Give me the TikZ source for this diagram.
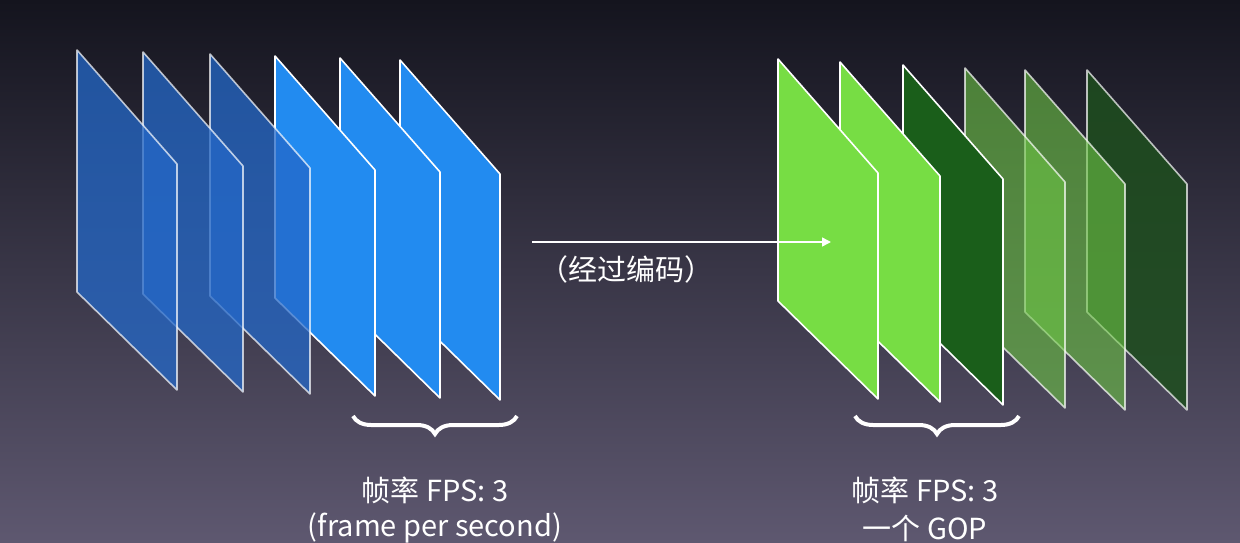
\documentclass[tikz,border=0pt]{standalone}
\usepackage{fontspec}
\setmainfont{Noto Sans CJK SC}
\usetikzlibrary{decorations.pathreplacing,arrows.meta}
\definecolor{bgtop}{HTML}{14141E}
\definecolor{bgbot}{HTML}{5E5870}
\definecolor{bdark}{HTML}{2468C8}
\definecolor{bbright}{HTML}{228BF0}
\definecolor{glight}{HTML}{77DD44}
\definecolor{gdark}{HTML}{1A5E1A}
\definecolor{gmid}{HTML}{6CC444}
\definecolor{gdeep}{HTML}{1E4E1E}
\tikzset{
  frame/.style={draw=white,line width=1.6pt,line join=round},
  lbl/.style={text=white,font=\fontsize{29}{32}\selectfont,inner sep=0pt},
  br/.style={draw=white,line width=4pt,decorate,decoration={brace,amplitude=18pt}}
}
\newcommand{\frm}[4]{% x, y, style
  \path[frame,#3] (#1,#2) -- ++(100,114) -- ++(0,226) -- ++(-100,-98) -- cycle;}
\begin{document}
\begin{tikzpicture}[x=1pt,y=-1pt]
\shade[top color=bgtop,bottom color=bgbot] (0,0) rectangle (1240,543);
\useasboundingbox (0,0) rectangle (1240,543);
% left frames (back to front)
\frm{400}{60}{fill=bbright}{}
\frm{340}{58}{fill=bbright}{}
\frm{275}{56}{fill=bbright}{}
\frm{210}{54}{fill=bdark,fill opacity=0.75,draw opacity=0.7}{}
\frm{143}{52}{fill=bdark,fill opacity=0.75,draw opacity=0.7}{}
\frm{77}{50}{fill=bdark,fill opacity=0.75,draw opacity=0.7}{}
% right frames
\frm{1087}{70}{fill=gdeep,fill opacity=0.85,draw opacity=0.7}{}
\frm{1025}{70}{fill=gmid,fill opacity=0.6,draw opacity=0.7}{}
\frm{965}{68}{fill=gmid,fill opacity=0.6,draw opacity=0.7}{}
\frm{903}{65}{fill=gdark}{}
\frm{840}{62}{fill=glight}{}
\frm{778}{59}{fill=glight}{}
% arrow
\coordinate (a1) at (532,242);
\coordinate (a2) at (831,242);
\draw[white,line width=1.5pt,-{Triangle[length=9pt,width=9pt]}] (a1) -- (a2);
\node[lbl] (enc) at (626,269) {（经过编码）};
% braces
\coordinate (b1) at (517,416); \coordinate (b2) at (353,416);
\coordinate (b3) at (1019,416); \coordinate (b4) at (855,416);
\draw[br] (b1) -- (b2);
\draw[br] (b3) -- (b4);
\node[lbl] (l1) at (435,490) {帧率 FPS: 3};
\node[lbl] (l2) at (435,528) {(frame per second)};
\node[lbl] (r1) at (925,490) {帧率 FPS: 3};
\node[lbl] (r2) at (925,528) {一个 GOP};
\end{tikzpicture}
\end{document}
